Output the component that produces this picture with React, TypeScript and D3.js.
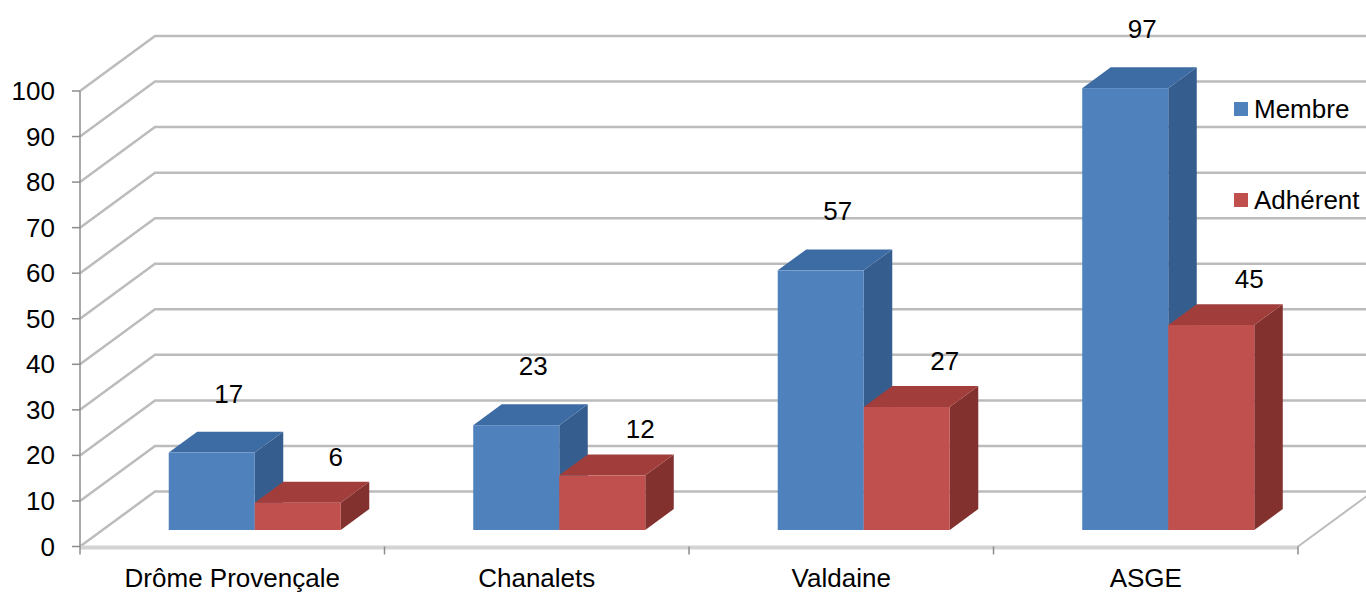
import React from "react";
import * as d3 from "d3";

const categories = ["Drôme Provençale", "Chanalets", "Valdaine", "ASGE"];
const seriesNames = ["Membre", "Adhérent"];
const membre = [17, 23, 57, 97];
const adherent = [6, 12, 27, 45];
const yTicks = [0, 10, 20, 30, 40, 50, 60, 70, 80, 90, 100];

const W = 1366;
const H = 593;
const FONT = "'Liberation Sans', Arial, sans-serif";

const colors = [
  { front: "#4F81BD", top: "#3D6CA4", side: "#355E8E" },
  { front: "#C0504D", top: "#A13E3B", side: "#82312F" },
];
const labelOff = [
  { dx: 17, dy: -59 },
  { dx: 38, dy: -46 },
];

export default function App() {
  const values = [membre, adherent];
  const y = d3.scaleLinear().domain([0, 100]).range([546.5, 91]);
  const x = d3.scaleBand<string>().domain(categories).range([80, 1298]).paddingInner(0).paddingOuter(0);
  const DX = 75;
  const DY = -55;
  const z0 = 0.3;
  const z1 = 0.68;
  const barW = x.bandwidth() * 0.2825;
  const inner = d3.scaleBand<string>().domain(seriesNames).range([-barW, barW]);
  const px = (xx: number, z: number) => xx + DX * z;
  const py = (yy: number, z: number) => yy + DY * z;

  const gridColor = "#bcbcbc";
  const leftX = x.range()[0];
  const rightX = x.range()[1];

  const bars: React.ReactNode[] = [];
  const labels: React.ReactNode[] = [];
  categories.forEach((c, ci) => {
    seriesNames.forEach((s, si) => {
      const v = values[si][ci];
      const wx0 = (x(c) as number) + x.bandwidth() / 2 + (inner(s) as number);
      const wx1 = wx0 + inner.bandwidth();
      const yb = y(0);
      const yt = y(v);
      const col = colors[si];
      const fx0 = px(wx0, z0), fx1 = px(wx1, z0);
      const fyt = py(yt, z0), fyb = py(yb, z0);
      const bx0 = px(wx0, z1), bx1 = px(wx1, z1);
      const byt = py(yt, z1), byb = py(yb, z1);
      bars.push(
        <g key={c + s}>
          <polygon points={`${fx1},${fyt} ${bx1},${byt} ${bx1},${byb} ${fx1},${fyb}`} fill={col.side} />
          <polygon points={`${fx0},${fyt} ${bx0},${byt} ${bx1},${byt} ${fx1},${fyt}`} fill={col.top} />
          <rect x={fx0} y={fyt} width={fx1 - fx0} height={fyb - fyt} fill={col.front} />
        </g>
      );
      const lo = labelOff[si];
      labels.push(
        <text
          key={"l" + c + s}
          x={(fx0 + fx1) / 2 + lo.dx}
          y={fyt + lo.dy}
          textAnchor="middle"
          dominantBaseline="central"
          fontSize={26}
          fontFamily={FONT}
          fill="#000"
        >
          {v}
        </text>
      );
    });
  });

  return (
    <svg width={W} height={H} style={{ display: "block", position: "absolute", left: 0, top: 0 }}>
      <rect x={0} y={0} width={W} height={H} fill="#fff" />
      {/* gridlines: left wall + back wall */}
      {yTicks.map((t) => (
        <polyline
          key={"g" + t}
          points={`${leftX},${y(t)} ${leftX + DX},${y(t) + DY} ${W + 10},${y(t) + DY}`}
          fill="none"
          stroke={gridColor}
          strokeWidth={2.5}
        />
      ))}
      {/* floor edges */}
      <line x1={rightX} y1={y(0)} x2={rightX + DX} y2={y(0) + DY} stroke={gridColor} strokeWidth={2} />
      <line x1={leftX} y1={y(0) + 1} x2={rightX} y2={y(0) + 1} stroke="#d4d4d4" strokeWidth={4} />
      {/* vertical axis */}
      <line x1={leftX} y1={y(100)} x2={leftX} y2={y(0) + 8} stroke="#8c8c8c" strokeWidth={1.5} />
      {yTicks.map((t) => (
        <g key={"t" + t}>
          <line x1={leftX - 8} y1={y(t)} x2={leftX} y2={y(t)} stroke="#8c8c8c" strokeWidth={1.5} />
          <text
            x={leftX - 25}
            y={y(t)}
            textAnchor="end"
            dominantBaseline="central"
            fontSize={26}
            fontFamily={FONT}
            fill="#000"
          >
            {t}
          </text>
        </g>
      ))}
      {/* category ticks */}
      {categories.map((c) => (
        <line
          key={"ct" + c}
          x1={(x(c) as number) + x.bandwidth()}
          y1={y(0)}
          x2={(x(c) as number) + x.bandwidth()}
          y2={y(0) + 8}
          stroke="#8c8c8c"
          strokeWidth={1.5}
        />
      ))}
      {bars}
      {labels}
      {categories.map((c) => (
        <text
          key={"cl" + c}
          x={(x(c) as number) + x.bandwidth() / 2}
          y={578}
          textAnchor="middle"
          dominantBaseline="central"
          fontSize={26}
          fontFamily={FONT}
          fill="#000"
        >
          {c}
        </text>
      ))}
      {/* legend */}
      {seriesNames.map((s, i) => (
        <g key={"lg" + s} transform={`translate(1234, ${102 + i * 91})`}>
          <rect x={0} y={0} width={14} height={14} fill={colors[i].front} />
          <text x={20} y={7} dominantBaseline="central" fontSize={26} fontFamily={FONT} fill="#000">
            {s}
          </text>
        </g>
      ))}
    </svg>
  );
}
